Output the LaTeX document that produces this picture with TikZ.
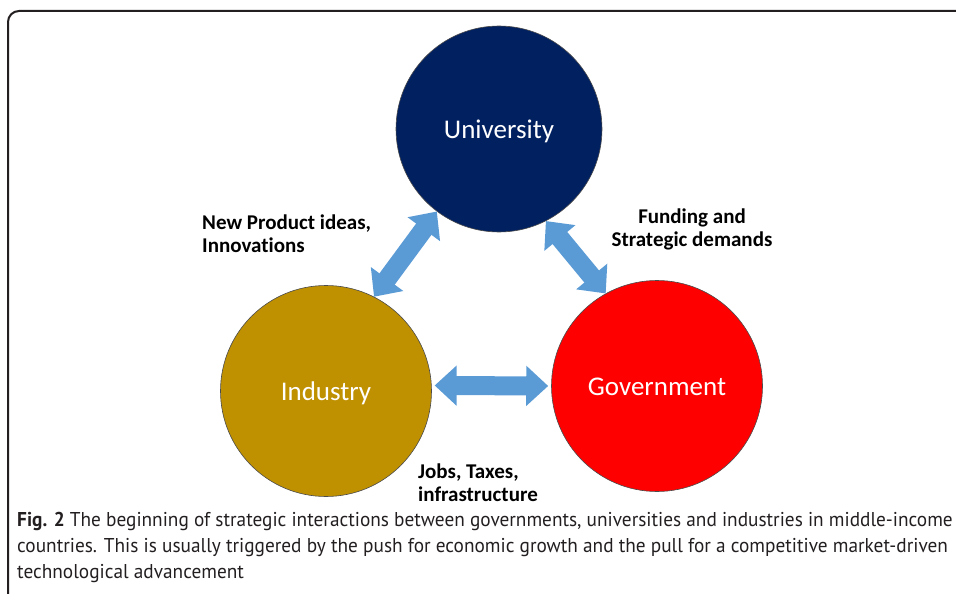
\documentclass[tikz,border=0pt]{standalone}
\usepackage{fontspec}
\setmainfont{Carlito}[Ligatures=CommonOff]
\newfontfamily\capfont{PT Sans}[FakeStretch=0.965]
\usetikzlibrary{arrows.meta}
\definecolor{unicol}{HTML}{002060}
\definecolor{indcol}{HTML}{BF9000}
\definecolor{govcol}{HTML}{FF0000}
\definecolor{arrcol}{HTML}{5B9BD5}
\definecolor{framecol}{HTML}{231F20}
\tikzset{
  ball/.style={circle, inner sep=0pt, draw=black!70, line width=0.6pt, text=white,
    font=\fontsize{27}{30}\selectfont, text height=25pt, text depth=6pt},
  dblarrow/.style={draw=arrcol, line width=19pt,
    {Triangle[length=22pt,width=39pt]}-{Triangle[length=22pt,width=39pt]}},
  lbl/.style={font=\bfseries\fontsize{21}{23}\selectfont, text=black, inner sep=0pt},
  captxt/.style={font=\capfont\fontsize{20}{26}\selectfont, text=framecol, inner sep=0pt, align=left},
  framestyle/.style={draw=framecol, line width=2pt, rounded corners=11pt}
}
\begin{document}
\begin{tikzpicture}[x=1pt,y=-1pt]
\useasboundingbox (0,0) rectangle (956,594);
\draw[framestyle] (960,11) -- (8,11) -- (8,600);
\node[ball, fill=unicol, minimum size=206pt] (uni) at (499,129) {University};
\node[ball, fill=indcol, minimum size=211pt] (ind) at (326,391) {Industry};
\node[ball, fill=govcol, minimum size=211pt] (gov) at (657,386) {Government};
\draw[dblarrow] (ind.63) -- (uni.233);
\draw[dblarrow] (uni.297) -- (gov.119);
\draw[dblarrow, shorten <=3pt, shorten >=3pt] (ind.3) -- (gov.180);
\node[lbl, anchor=west, align=left] (l1) at (202,234) {New Product ideas,\\Innovations};
\node[lbl, align=center] (l2) at (692,229) {Funding and\\Strategic demands};
\node[lbl, anchor=west, align=left] (l3) at (418,483) {Jobs, Taxes,\\infrastructure};
\node[captxt, anchor=north west] (cap) at (17,512) {\textbf{Fig. 2} The beginning of strategic interactions between governments, universities and industries in middle-income\\
countries. This is usually triggered by the push for economic growth and the pull for a competitive market-driven\\
technological advancement};
\end{tikzpicture}
\end{document}
